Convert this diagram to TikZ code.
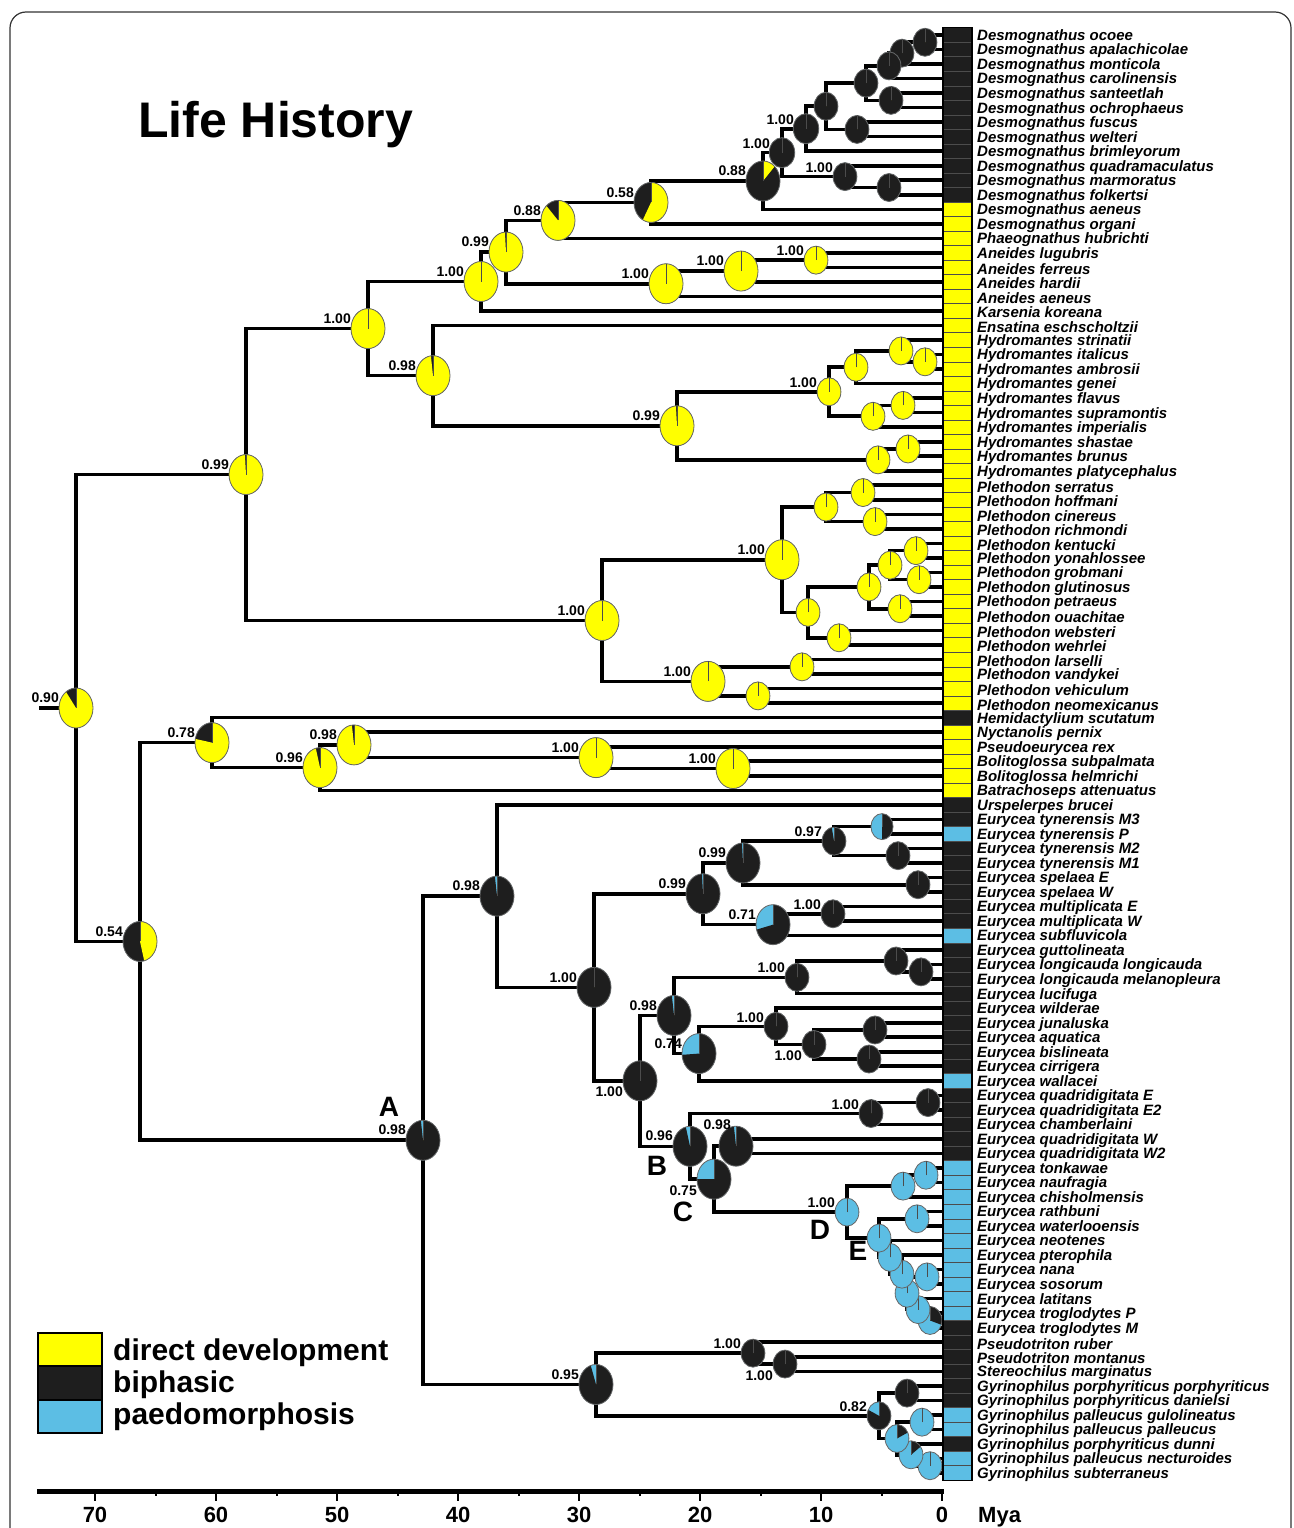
\documentclass[tikz,border=0pt]{standalone}
\usepackage{fontspec}
\setmainfont{Liberation Sans}
\usetikzlibrary{calc,positioning}
\pgfdeclarelayer{back}
\pgfsetlayers{back,main}
\definecolor{cY}{RGB}{255,255,0}
\definecolor{cK}{RGB}{30,30,30}
\definecolor{cB}{RGB}{92,190,228}

\tikzset{
  branch/.style={line width=3.6pt,black},
  rim/.style={draw=black!60,line width=0.8pt},
  spoke/.style={black!70,line width=0.7pt},
  cell/.style={draw=black!70,line width=0.6pt},
  tip/.style={anchor=west,inner sep=0pt,yshift=-1.5pt,font=\fontsize{15}{15}\selectfont\bfseries\itshape},
  pp/.style={inner sep=0pt,font=\fontsize{14}{14}\selectfont\bfseries},
  lb/.style={pp,anchor=south east,xshift=-17pt,yshift=5pt},
  ls/.style={pp,anchor=south east,xshift=-12pt,yshift=4pt},
  lbb/.style={pp,anchor=north east,xshift=-17pt,yshift=-6pt},
  lsb/.style={pp,anchor=north east,xshift=-12pt,yshift=-6pt},
  clab/.style={inner sep=0pt,font=\fontsize{28}{28}\selectfont\bfseries},
  leg/.style={anchor=base west,inner sep=0pt,font=\fontsize{30}{30}\selectfont\bfseries},
  axl/.style={inner sep=0pt,font=\fontsize{22}{22}\selectfont\bfseries}
}

% pie: node, yellow, black, radius
\newcommand{\lhpie}[4]{%
  \pgfmathsetmacro\pa{90-360*#2}%
  \pgfmathsetmacro\pb{90-360*(#2+#3)}%
  \begin{scope}[shift={(#1)},xscale=0.85]
    \fill[cB] (0,0) circle[radius=#4];
    \fill[cK] (0,0) -- (90:#4) arc[start angle=90,end angle=\pb,radius=#4] -- cycle;
    \fill[cY] (0,0) -- (90:#4) arc[start angle=90,end angle=\pa,radius=#4] -- cycle;
    \draw[rim] (0,0) circle[radius=#4];
    \draw[spoke] (0,0) -- (90:#4);
  \end{scope}}

% clade: name, x, child, child, yellow, black, radius
\newcommand{\cld}[7]{%
  \path let \p1=(#3), \p2=(#4) in (#2pt,{(\y1+\y2)/2}) coordinate (#1);
  \begin{pgfonlayer}{back}
    \draw[branch] (#1) |- (#3) (#1) |- (#4);
  \end{pgfonlayer}
  \lhpie{#1}{#5}{#6}{#7}}

\begin{document}
\begin{tikzpicture}[x=1pt,y=1pt]
\useasboundingbox (0,0) rectangle (1293,-1528);
\draw[black!80,line width=1.2pt,rounded corners=16pt] (10,-1560) -- (10,-12) -- (1291,-12) -- (1291,-1560);
\node[anchor=base west,inner sep=0pt,font=\fontsize{50}{50}\selectfont\bfseries] (title) at (138,-137) {Life History};

\foreach \i in {1,...,100} \coordinate (t\i) at (943,{-35-(\i-1)*14.525});

\cld{a1}{925}{t1}{t2}{0}{1}{14}
\cld{a2}{902}{a1}{t3}{0}{1}{14}
\cld{a3}{889}{a2}{t4}{0}{1}{14}
\cld{a4}{891}{t5}{t6}{0}{1}{14}
\cld{a5}{866}{a3}{a4}{0}{1}{14}
\cld{a6}{857}{t7}{t8}{0}{1}{14}
\cld{a7}{826}{a5}{a6}{0}{1}{14}
\cld{a8}{806}{a7}{t9}{0}{1}{15}
\cld{a9}{889}{t11}{t12}{0}{1}{14}
\cld{a10}{845}{t10}{a9}{0}{1}{14}
\cld{a11}{782}{a8}{a10}{0}{1}{15}
\cld{a12}{763}{a11}{t13}{0.12}{0.88}{20}
\cld{a13}{651}{a12}{t14}{0.58}{0.42}{20}
\cld{a14}{558}{a13}{t15}{0.88}{0.12}{20}
\cld{b1}{816}{t16}{t17}{1}{0}{14}
\cld{b2}{741}{b1}{t18}{1}{0}{20}
\cld{b3}{666}{b2}{t19}{1}{0}{20}
\cld{a15}{506}{a14}{b3}{0.99}{0.01}{20}
\cld{a16}{481}{a15}{t20}{1}{0}{20}
\cld{h1}{925}{t23}{t24}{1}{0}{14}
\cld{h2}{901}{t22}{h1}{1}{0}{14}
\cld{h3}{856}{h2}{t25}{1}{0}{14}
\cld{h4}{903}{t26}{t27}{1}{0}{14}
\cld{h5}{873}{h4}{t28}{1}{0}{14}
\cld{h6}{829}{h3}{h5}{1}{0}{14}
\cld{h7}{908}{t29}{t30}{1}{0}{14}
\cld{h8}{878}{h7}{t31}{1}{0}{14}
\cld{h9}{677}{h6}{h8}{0.99}{0.01}{20}
\cld{a17}{433}{t21}{h9}{0.98}{0.02}{20}
\cld{a18}{368}{a16}{a17}{1}{0}{20}
\cld{p1}{863}{t32}{t33}{1}{0}{14}
\cld{p2}{875}{t34}{t35}{1}{0}{14}
\cld{p3}{826}{p1}{p2}{1}{0}{14}
\cld{p4}{916}{t36}{t37}{1}{0}{14}
\cld{p5}{919}{t38}{t39}{1}{0}{14}
\cld{p6}{890}{p4}{p5}{1}{0}{14}
\cld{p7}{900}{t40}{t41}{1}{0}{14}
\cld{p8}{869}{p6}{p7}{1}{0}{14}
\cld{p9}{839}{t42}{t43}{1}{0}{14}
\cld{p10}{808}{p8}{p9}{1}{0}{14}
\cld{p11}{782}{p3}{p10}{1}{0}{20}
\cld{p12}{802}{t44}{t45}{1}{0}{14}
\cld{p13}{758}{t46}{t47}{1}{0}{14}
\cld{p14}{708}{p12}{p13}{1}{0}{20}
\cld{p15}{602}{p11}{p14}{1}{0}{20}
\cld{a19}{246}{a18}{p15}{0.99}{0.01}{20}
\cld{c4}{733}{t51}{t52}{1}{0}{20}
\cld{c3}{596}{t50}{c4}{1}{0}{20}
\cld{c2}{354}{t49}{c3}{0.98}{0.02}{20}
\cld{c1}{320}{c2}{t53}{0.96}{0.04}{20}
\cld{c0}{212}{t48}{c1}{0.78}{0.22}{20}
\cld{e1}{882}{t55}{t56}{0}{0.5}{13}
\cld{e2}{898}{t57}{t58}{0}{1}{14}
\cld{e3}{834}{e1}{e2}{0}{0.97}{14}
\cld{e4}{918}{t59}{t60}{0}{1}{14}
\cld{e5}{743}{e3}{e4}{0}{0.99}{20}
\cld{e6}{833}{t61}{t62}{0}{1}{14}
\cld{e7}{773}{e6}{t63}{0}{0.71}{20}
\cld{e8}{703}{e5}{e7}{0}{0.99}{20}
\cld{f1}{921}{t65}{t66}{0}{1}{14}
\cld{f2}{896}{t64}{f1}{0}{1}{14}
\cld{f3}{797}{f2}{t67}{0}{1}{14}
\cld{g3}{875}{t69}{t70}{0}{1}{14}
\cld{g4}{869}{t71}{t72}{0}{1}{14}
\cld{g2}{814}{g3}{g4}{0}{1}{14}
\cld{g1}{776}{t68}{g2}{0}{1}{14}
\cld{g5}{699}{g1}{t73}{0}{0.74}{20}
\cld{f4}{674}{f3}{g5}{0}{0.98}{20}
\cld{k1}{928}{t74}{t75}{0}{1}{14}
\cld{k2}{871}{k1}{t76}{0}{1}{14}
\cld{k3}{736}{t77}{t78}{0}{0.98}{20}
\cld{m2}{926}{t79}{t80}{0}{0}{14}
\cld{m1}{903}{m2}{t81}{0}{0}{14}
\cld{m3}{917}{t82}{t83}{0}{0}{14}
\cld{q2}{930}{t89}{t90}{0}{0.3}{14}
\cld{q3}{918}{t88}{q2}{0}{0}{14}
\cld{q1}{927}{t86}{t87}{0}{0}{14}
\cld{q4}{907}{q1}{q3}{0}{0}{14}
\cld{q5}{902}{t85}{q4}{0}{0}{14}
\cld{q6}{890}{t84}{q5}{0}{0}{14}
\cld{nE}{879}{m3}{q6}{0}{0}{14}
\cld{nD}{847}{m1}{nE}{0}{0}{14}
\cld{nC}{714}{k3}{nD}{0}{0.75}{20}
\cld{nB}{690}{k2}{nC}{0}{0.96}{20}
\cld{e9}{640}{f4}{nB}{0}{1}{20}
\cld{e10}{594}{e8}{e9}{0}{1}{20}
\cld{e11}{497}{t54}{e10}{0}{0.98}{20}
\cld{r0}{785}{t92}{t93}{0}{1}{14}
\cld{r1}{753}{t91}{r0}{0}{1}{14}
\cld{s1}{907}{t94}{t95}{0}{1}{14}
\cld{s3}{922}{t96}{t97}{0}{0}{14}
\cld{s5}{930}{t99}{t100}{0}{0}{14}
\cld{s4}{911}{t98}{s5}{0}{0.15}{14}
\cld{s2}{897}{s3}{s4}{0}{0.18}{14}
\cld{r2}{879}{s1}{s2}{0}{0.82}{14}
\cld{r3}{596}{r1}{r2}{0}{0.95}{20}
\cld{nA}{423}{e11}{r3}{0}{0.98}{20}
\cld{n054}{140}{c0}{nA}{0.46}{0.54}{20}
\cld{root}{76}{a19}{n054}{0.90}{0.10}{20}
\begin{pgfonlayer}{back}
\draw[branch] (root) -- ++(-37,0);
\end{pgfonlayer}

\foreach \a/\b/\c in {1/12/cK,13/47/cY,48/48/cK,49/53/cY,54/55/cK,56/56/cB,57/62/cK,63/63/cB,64/72/cK,73/73/cB,74/78/cK,79/89/cB,90/95/cK,96/97/cB,98/98/cK,99/100/cB}
  \foreach \i in {\a,...,\b}
    \filldraw[cell,fill=\c] ([yshift=7.26pt]t\i) rectangle ([xshift=29pt,yshift=-7.26pt]t\i);
\draw[line width=1.2pt] ([yshift=7.26pt]t1) rectangle ([xshift=29pt,yshift=-7.26pt]t100);

\foreach \i/\taxon in {
1/Desmognathus ocoee,
2/Desmognathus apalachicolae,
3/Desmognathus monticola,
4/Desmognathus carolinensis,
5/Desmognathus santeetlah,
6/Desmognathus ochrophaeus,
7/Desmognathus fuscus,
8/Desmognathus welteri,
9/Desmognathus brimleyorum,
10/Desmognathus quadramaculatus,
11/Desmognathus marmoratus,
12/Desmognathus folkertsi,
13/Desmognathus aeneus,
14/Desmognathus organi,
15/Phaeognathus hubrichti,
16/Aneides lugubris,
17/Aneides ferreus,
18/Aneides hardii,
19/Aneides aeneus,
20/Karsenia koreana,
21/Ensatina eschscholtzii,
22/Hydromantes strinatii,
23/Hydromantes italicus,
24/Hydromantes ambrosii,
25/Hydromantes genei,
26/Hydromantes flavus,
27/Hydromantes supramontis,
28/Hydromantes imperialis,
29/Hydromantes shastae,
30/Hydromantes brunus,
31/Hydromantes platycephalus,
32/Plethodon serratus,
33/Plethodon hoffmani,
34/Plethodon cinereus,
35/Plethodon richmondi,
36/Plethodon kentucki,
37/Plethodon yonahlossee,
38/Plethodon grobmani,
39/Plethodon glutinosus,
40/Plethodon petraeus,
41/Plethodon ouachitae,
42/Plethodon websteri,
43/Plethodon wehrlei,
44/Plethodon larselli,
45/Plethodon vandykei,
46/Plethodon vehiculum,
47/Plethodon neomexicanus,
48/Hemidactylium scutatum,
49/Nyctanolis pernix,
50/Pseudoeurycea rex,
51/Bolitoglossa subpalmata,
52/Bolitoglossa helmrichi,
53/Batrachoseps attenuatus,
54/Urspelerpes brucei,
55/Eurycea tynerensis M3,
56/Eurycea tynerensis P,
57/Eurycea tynerensis M2,
58/Eurycea tynerensis M1,
59/Eurycea spelaea E,
60/Eurycea spelaea W,
61/Eurycea multiplicata E,
62/Eurycea multiplicata W,
63/Eurycea subfluvicola,
64/Eurycea guttolineata,
65/Eurycea longicauda longicauda,
66/Eurycea longicauda melanopleura,
67/Eurycea lucifuga,
68/Eurycea wilderae,
69/Eurycea junaluska,
70/Eurycea aquatica,
71/Eurycea bislineata,
72/Eurycea cirrigera,
73/Eurycea wallacei,
74/Eurycea quadridigitata E,
75/Eurycea quadridigitata E2,
76/Eurycea chamberlaini,
77/Eurycea quadridigitata W,
78/Eurycea quadridigitata W2,
79/Eurycea tonkawae,
80/Eurycea naufragia,
81/Eurycea chisholmensis,
82/Eurycea rathbuni,
83/Eurycea waterlooensis,
84/Eurycea neotenes,
85/Eurycea pterophila,
86/Eurycea nana,
87/Eurycea sosorum,
88/Eurycea latitans,
89/Eurycea troglodytes P,
90/Eurycea troglodytes M,
91/Pseudotriton ruber,
92/Pseudotriton montanus,
93/Stereochilus marginatus,
94/Gyrinophilus porphyriticus porphyriticus,
95/Gyrinophilus porphyriticus danielsi,
96/Gyrinophilus palleucus gulolineatus,
97/Gyrinophilus palleucus palleucus,
98/Gyrinophilus porphyriticus dunni,
99/Gyrinophilus palleucus necturoides,
100/Gyrinophilus subterraneus}
  \node[tip] (l\i) at ([xshift=34pt]t\i) {\taxon};

\node[lb] (v1) at (root) {0.90};
\node[lb] (v2) at (a19) {0.99};
\node[lb] (v3) at (a18) {1.00};
\node[lb] (v4) at (a17) {0.98};
\node[lb] (v5) at (a16) {1.00};
\node[lb] (v6) at (a15) {0.99};
\node[lb] (v7) at (a14) {0.88};
\node[lb] (v8) at (a13) {0.58};
\node[lb] (v9) at (a12) {0.88};
\node[ls] (v10) at (a11) {1.00};
\node[ls] (v11) at (a8) {1.00};
\node[ls] (v12) at (a10) {1.00};
\node[ls] (v13) at (b1) {1.00};
\node[lb] (v14) at (b2) {1.00};
\node[lb] (v15) at (b3) {1.00};
\node[ls] (v16) at (h6) {1.00};
\node[lb] (v17) at (h9) {0.99};
\node[lb] (v18) at (p11) {1.00};
\node[lb] (v19) at (p14) {1.00};
\node[lb] (v20) at (p15) {1.00};
\node[lb] (v21) at (c0) {0.78};
\node[lb] (v22) at (c2) {0.98};
\node[lb] (v23) at (c1) {0.96};
\node[lb] (v24) at (c3) {1.00};
\node[lb] (v25) at (c4) {1.00};
\node[lb] (v26) at (n054) {0.54};
\node[lb] (v27) at (nA) {0.98};
\node[lb] (v28) at (e11) {0.98};
\node[lb] (v29) at (e10) {1.00};
\node[lb] (v30) at (e8) {0.99};
\node[lb] (v31) at (e5) {0.99};
\node[ls] (v32) at (e3) {0.97};
\node[lb] (v33) at (e7) {0.71};
\node[ls] (v34) at (e6) {1.00};
\node[lbb] (v35) at (e9) {1.00};
\node[lb] (v36) at (f4) {0.98};
\node[ls] (v37) at (f3) {1.00};
\node[lb] (v38) at (g5) {0.74};
\node[ls] (v39) at (g1) {1.00};
\node[lsb] (v40) at (g2) {1.00};
\node[lb] (v41) at (nB) {0.96};
\node[ls] (v42) at (k2) {1.00};
\node[pp,anchor=south east,xshift=-5pt,yshift=16pt] (v43) at (k3) {0.98};
\node[lbb] (v44) at (nC) {0.75};
\node[ls] (v45) at (nD) {1.00};
\node[lb] (v46) at (r3) {0.95};
\node[ls] (v47) at (r1) {1.00};
\node[lsb] (v48) at (r0) {1.00};
\node[ls] (v49) at (r2) {0.82};

\node[clab] (lA) at (389,-1107) {A};
\node[clab] (lB) at (657,-1166) {B};
\node[clab] (lC) at (683,-1212) {C};
\node[clab] (lD) at (820,-1230) {D};
\node[clab] (lE) at (858,-1251) {E};

\filldraw[fill=cY,draw=black,line width=2.5pt] (38,-1333) rectangle (102,-1366);
\filldraw[fill=cK,draw=black,line width=2.5pt] (38,-1366) rectangle (102,-1400);
\filldraw[fill=cB,draw=black,line width=2.5pt] (38,-1400) rectangle (102,-1433);
\node[leg] (lg1) at (113,-1360) {direct development};
\node[leg] (lg2) at (113,-1392) {biphasic};
\node[leg] (lg3) at (113,-1424) {paedomorphosis};

\draw[line width=5pt] (37,-1491) -- (944,-1491);
\foreach \t in {0,10,...,70}
  \draw[line width=2.5pt] ({942-12.1*\t},-1491) -- ++(0,-10) node[axl,below=5pt] (tk\t) {\t};
\foreach \t in {5,15,...,65}
  \draw[line width=2pt] ({942-12.1*\t},-1491) -- ++(0,-5);
\node[axl,anchor=west] (mya) at (978,-1517) {Mya};
\end{tikzpicture}
\end{document}
